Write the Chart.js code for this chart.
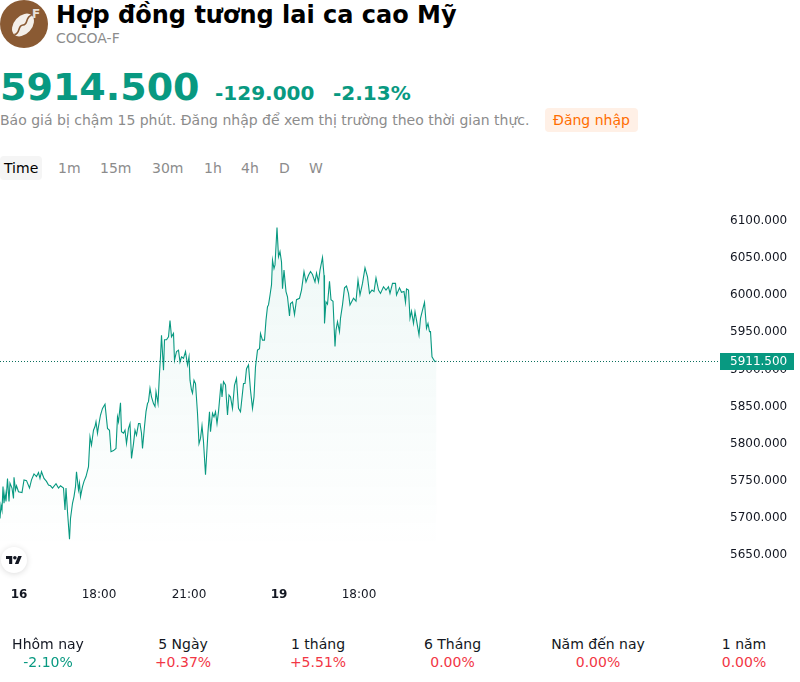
<!DOCTYPE html>
<html><head><meta charset="utf-8">
<script src="https://cdn.jsdelivr.net/npm/chart.js@4"></script>
<style>
html,body{margin:0;padding:0;background:#fff;font-family:"DejaVu Sans",sans-serif;overflow:hidden}
body{width:800px;height:682px;position:relative}
.abs{position:absolute;white-space:nowrap;line-height:1}
#wrap{position:absolute;left:0;top:190px;width:794px;height:420px}
.perf{position:absolute;top:635px;text-align:center;transform:translateX(-50%);font-size:14px;line-height:18px;color:#131722;white-space:nowrap}
.perf b{display:block;font-weight:400}
.up{color:#f23645}.dn{color:#089981}
</style></head><body>
<svg class="abs" style="left:0;top:0" width="48" height="48" viewBox="0 0 48 48">
<circle cx="24" cy="24" r="24" fill="#8a5a33"/>
<g transform="rotate(42 23 25)"><ellipse cx="23" cy="25" rx="9" ry="13" fill="#f4efe9"/>
<path d="M23 12c-4 6 4 9 0 13s4 8 0 13" fill="none" stroke="#8a5a33" stroke-width="1.6"/></g>
<text x="36" y="18" font-family="DejaVu Sans" font-size="12" font-weight="700" fill="#e8e0d8" text-anchor="middle">F</text>
</svg>
<div class="abs" style="left:56px;top:3px;font-size:24px;font-weight:700;color:#000">Hợp đồng tương lai ca cao Mỹ</div>
<div class="abs" style="left:56px;top:31px;font-size:14px;color:#8c8c8c">COCOA-F</div>
<div class="abs" style="left:0;top:68px;font-size:38px;font-weight:700;color:#089981">5914.500</div>
<div class="abs" style="left:215px;top:83px;font-size:20px;font-weight:700;color:#089981">-129.000</div>
<div class="abs" style="left:333px;top:83px;font-size:20px;font-weight:700;color:#089981">-2.13%</div>
<div class="abs" style="left:0;top:113px;font-size:14px;color:#8c8c8c">Báo giá bị chậm 15 phút. Đăng nhập để xem thị trường theo thời gian thực.</div>
<div class="abs" style="left:545px;top:108px;width:93px;height:24px;background:#fff0e6;border-radius:4px;color:#ff6d00;font-size:14px;line-height:24px;text-align:center">Đăng nhập</div>
<div class="abs" style="left:0;top:156px;width:42px;height:24px;background:#f5f5f5;border-radius:4px"></div>
<div class="abs" style="left:4px;top:161px;font-size:14px;color:#000">Time</div>
<div class="abs" style="left:58px;top:161px;font-size:14px;color:#8c8c8c">1m</div>
<div class="abs" style="left:100px;top:161px;font-size:14px;color:#8c8c8c">15m</div>
<div class="abs" style="left:152px;top:161px;font-size:14px;color:#8c8c8c">30m</div>
<div class="abs" style="left:204px;top:161px;font-size:14px;color:#8c8c8c">1h</div>
<div class="abs" style="left:241px;top:161px;font-size:14px;color:#8c8c8c">4h</div>
<div class="abs" style="left:279px;top:161px;font-size:14px;color:#8c8c8c">D</div>
<div class="abs" style="left:309px;top:161px;font-size:14px;color:#8c8c8c">W</div>
<div id="wrap"><canvas id="c" width="794" height="420"></canvas></div>
<div class="abs" style="left:1px;top:547px;width:26px;height:26px;background:#fff;border-radius:50%;box-shadow:0 1px 6px rgba(0,0,0,.14)"></div>
<svg class="abs" style="left:6px;top:556px" width="16" height="8" viewBox="0 4 36 18"><path d="M14 22H7V11H0V4h14v18zM28 22h-8l7.5-18h8L28 22z" fill="#131722"/><circle cx="20" cy="8" r="4" fill="#131722"/></svg>
<div class="perf" style="left:48px">Hhôm nay<b class="dn">-2.10%</b></div>
<div class="perf" style="left:183px">5 Ngày<b class="up">+0.37%</b></div>
<div class="perf" style="left:318px">1 tháng<b class="up">+5.51%</b></div>
<div class="perf" style="left:452.5px">6 Tháng<b class="up">0.00%</b></div>
<div class="perf" style="left:598px">Năm đến nay<b class="up">0.00%</b></div>
<div class="perf" style="left:744px">1 năm<b class="up">0.00%</b></div>
<script>
const minutes=[0,2,4,6,8,10,12,15,18,20,24,27,28,31,33,37,44,48,53,59,63,68,73,77,80,83,88,93,97,101,105,112,117,121,127,130,132,135,139,141,145,148,151,153,157,159,161,165,168,172,177,180,183,187,190,192,195,197,201,205,210,215,219,222,227,232,235,237,241,243,247,250,253,257,260,263,267,270,273,277,280,283,285,289,292,295,297,300,303,307,310,312,316,319,321,323,327,329,333,337,340,343,347,349,353,357,360,363,367,371,375,378,380,383,385,388,391,395,398,401,404,407,411,416,419,421,425,428,431,434,437,442,444,447,451,455,458,461,465,469,473,477,481,487,490,493,497,501,505,508,511,515,519,521,525,529,532,535,537,540,543,545,548,550,554,557,560,563,565,568,572,575,579,581,585,589,593,599,603,608,612,617,621,625,630,633,637,640,645,648,649,652,655,659,662,666,670,672,675,679,681,685,689,693,697,700,707,712,716,720,725,730,735,739,744,748,752,757,761,767,772,777,780,785,791,793,799,803,808,811,813,817,820,823,827,830,833,838,841,845,849,853,856,859,861,864,868,870,873];
const prices=[5699,5717,5710,5742,5719.5,5733,5722,5753,5722,5746.5,5740,5726,5754.5,5737.5,5743,5735,5734,5751,5750,5740,5751,5759,5755.5,5761,5753,5762,5753,5749,5744,5743,5740,5746,5740,5743,5740,5710.5,5740,5708,5671,5699,5719.5,5728.5,5742,5762,5737.5,5746.5,5728.5,5742,5749,5755.5,5769,5809,5798,5818,5823,5829.5,5814,5823,5838.5,5847.5,5853,5820.5,5818,5789,5790.5,5793.5,5836,5829.5,5855,5816,5814,5818,5800,5820.5,5827,5780,5800,5818,5811.5,5827,5827,5814,5793.5,5823,5843,5854,5856.5,5874.5,5863,5854,5850,5870,5854,5895,5917,5946,5899,5940,5940,5944,5966,5944,5948.5,5912.5,5924,5926,5910,5917,5915,5924,5906,5917,5885.5,5872,5868,5885.5,5881,5841,5800,5807,5824,5802.5,5758,5816,5843,5816,5841,5836,5843,5827,5843,5881,5863,5883.5,5879,5838.5,5865.5,5863,5847.5,5879,5888,5847.5,5843,5881,5881,5901,5906,5872,5847.5,5863,5903.5,5926,5928,5948.5,5939.5,5939.5,5966.5,5984.5,5987,6000,6014,6047.5,6036,6041,6091.5,6052,6059,6045,6009,6034,6005,5998,5972,5989,5991,5974,5994,5996,6007,6032,6018,6027,6032,6028,6018,6030,6018,6034,6051,6027,5962,5991,5988,6019,5994,5992,5931,5953,5964.5,5951,5969,5987,6010,6012.5,6002.5,5987,5996,5992,6020.5,6000.5,6016,6037,6025,6002.5,6007,6005,6023.5,6007,6002.5,6011.5,6007,6011.5,6002.5,6016,6016,6000.5,6010,6004,6005,5990.5,6008.5,6007,5969,5978.5,5962,5978,5966.5,5946.5,5969,5980,5990.5,5955.5,5962,5951,5951,5917,5912.5,5910.5,5911.5];
const tickMinutes=[38,198,378,558,718];
const tickLabels=["16","18:00","21:00","19","18:00"];
const boldTicks=["16","19"];
const lastPrice=5911.5;
const axisMin=5616,axisMax=6142,spanMinutes=1440;
const green="#089981";

const lastPricePlugin={id:"lastPrice",afterDraw(chart){
  const {ctx,chartArea:a,scales:{y}}=chart;
  const py=Math.round(y.getPixelForValue(lastPrice))+0.5;
  ctx.save();
  ctx.strokeStyle="#0b6f5d";ctx.lineWidth=1;ctx.setLineDash([1,2]);
  ctx.beginPath();ctx.moveTo(a.left,py);ctx.lineTo(a.right,py);ctx.stroke();
  ctx.setLineDash([]);
  ctx.fillStyle=green;ctx.fillRect(a.right,py-8.5,74,17);
  ctx.fillStyle="#fff";ctx.font="12px 'DejaVu Sans'";ctx.textBaseline="middle";ctx.textAlign="left";
  ctx.fillText(lastPrice.toFixed(3),a.right+10,py+0.5);
  ctx.restore();
}};

new Chart(document.getElementById("c"),{
  type:"line",
  data:{datasets:[{
    data:minutes.map((m,i)=>({x:m,y:prices[i]})),
    borderColor:green,borderWidth:1.1,pointRadius:0,tension:0,fill:"origin",
    backgroundColor(ctx){
      const a=ctx.chart.chartArea;if(!a)return "transparent";
      const g=ctx.chart.ctx.createLinearGradient(0,a.top+36,0,a.top+360);
      g.addColorStop(0,"rgba(8,153,129,0.07)");
      g.addColorStop(1,"rgba(8,153,129,0)");
      return g;
    }
  }]},
  plugins:[lastPricePlugin],
  options:{
    responsive:false,animation:false,
    layout:{padding:0},
    plugins:{legend:{display:false},tooltip:{enabled:false}},
    scales:{
      x:{type:"linear",min:0,max:spanMinutes,
        grid:{display:false,drawTicks:false},border:{display:false},
        afterBuildTicks(s){s.ticks=tickMinutes.map(v=>({value:v}));},
        afterFit(s){s.height=30;s.paddingLeft=0;s.paddingRight=0;},
        ticks:{autoSkip:false,maxRotation:0,padding:8,color:"#131722",
          callback(v,i){return tickLabels[i];},
          font(c){return {family:"DejaVu Sans",size:12,weight:boldTicks.includes(tickLabels[c.index])?"700":"400"};}}
      },
      y:{position:"right",min:axisMin,max:axisMax,
        grid:{display:false,drawTicks:false},border:{display:false},
        afterFit(s){s.width=74;s.paddingTop=0;s.paddingBottom=0;},
        ticks:{stepSize:50,includeBounds:false,padding:10,color:"#131722",
          font:{family:"DejaVu Sans",size:12},
          callback(v){return Number(v).toFixed(3);}}
      }
    }
  }
});
</script>
</body></html>
